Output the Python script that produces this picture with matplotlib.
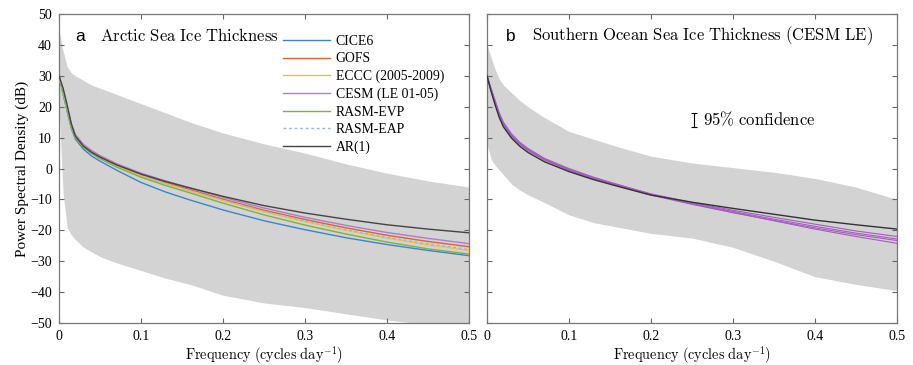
import matplotlib
matplotlib.use("Agg")
import matplotlib.pyplot as plt

plt.rcParams['mathtext.fontset'] = 'cm'
plt.rcParams['font.family'] = ['Liberation Serif', 'DejaVu Serif']

# ---------------- data ----------------
freq = [0, 0.005, 0.01, 0.015, 0.02, 0.03, 0.04, 0.05, 0.07, 0.1, 0.13, 0.16,
        0.2, 0.25, 0.3, 0.35, 0.4, 0.45, 0.5]

# Panel a: Arctic sea ice thickness spectra (dB)
band_a_upper = [45, 38, 33, 31, 30, 28.5, 27, 26, 24, 21, 18, 15, 11.5, 8, 5, 1.5, -1.5, -4, -6]
band_a_lower = [20, -8, -19, -21.5, -23, -25.5, -27, -28.5, -30.5, -33, -35.5, -37.5, -41,
                -43.5, -45, -47, -49, -50.5, -51]

cice6 = [30, 24, 18.5, 13, 9.5, 6.2, 4.0, 2.4, -0.5, -4.5, -7.6, -10.2, -13.4, -16.9, -19.8,
         -22.4, -24.6, -26.5, -28.2]
gofs = [30, 25, 19.5, 14, 10.5, 7.4, 5.4, 3.9, 1.3, -1.9, -4.5, -6.8, -9.9, -13.5, -16.5,
        -19.2, -21.6, -23.6, -25.3]
eccc = [29.5, 24.5, 19, 13.5, 10, 7.0, 5.0, 3.4, 0.8, -2.4, -5.0, -7.3, -10.4, -14.0, -17.2,
        -20.0, -22.5, -24.7, -26.5]
cesm = [30, 25.5, 20, 14.5, 11, 7.8, 5.8, 4.2, 1.6, -1.5, -4.0, -6.3, -9.3, -12.8, -15.8,
        -18.4, -20.7, -22.6, -24.3]
rasm_evp = [30, 24.5, 19, 13.5, 10, 6.8, 4.8, 3.2, 0.5, -2.8, -5.5, -7.9, -11.2, -15.0, -18.3,
            -21.2, -23.8, -26.0, -27.7]
rasm_eap = [30, 25, 19.5, 14, 10.5, 7.2, 5.2, 3.6, 1.0, -2.2, -4.8, -7.1, -10.2, -13.8, -17.0,
            -19.8, -22.3, -24.4, -26.2]
ar1_a = [30, 26, 20.5, 14.5, 10.5, 7.2, 5.2, 3.7, 1.2, -1.8, -4.2, -6.3, -9.0, -12.0, -14.4,
         -16.4, -18.2, -19.6, -20.8]

# Panel b: Southern Ocean sea ice thickness spectra (CESM LE members)
band_b_upper = [40, 36, 32, 29, 27, 24.5, 22, 20, 16.5, 12, 9.5, 7, 4, 1.8, 0.3, -1.2, -3.2, -6.0, -10]
band_b_lower = [8, 3, 1, -0.5, -2, -5, -7, -8.5, -11, -15, -17.5, -19, -21, -22.5, -25.5,
                -30, -35, -37.5, -39.5]
so_member1 = [30, 25.5, 21.5, 17.5, 14.5, 10.8, 8.2, 6.2, 3.0, -0.3, -3.0, -5.3, -8.2, -11.0,
              -13.5, -15.8, -18.0, -20.2, -22.0]
so_member2 = [29.5, 25, 21, 17, 14, 10.3, 7.8, 5.8, 2.8, -0.6, -3.3, -5.6, -8.6, -11.6,
              -14.3, -16.8, -19.2, -21.4, -23.3]
so_member3 = [30, 26, 22, 18, 15, 11.2, 8.5, 6.5, 3.3, 0.0, -2.8, -5.2, -8.3, -11.4,
              -14.2, -16.9, -19.6, -22.0, -24.2]
so_member4 = [30, 25.3, 21.2, 17.2, 14.2, 10.5, 8.0, 6.0, 2.9, -0.5, -3.2, -5.5, -8.5, -11.3,
              -13.9, -16.4, -18.7, -20.9, -22.8]
ar1_b = [30, 25, 20.5, 16.5, 13.5, 9.8, 7.2, 5.2, 2.2, -1.0, -3.6, -5.8, -8.6, -10.9, -12.9,
         -14.8, -16.7, -18.2, -19.6]

conf_f = 0.252
conf_y = 15.7
conf_half = 2.3

xticks = [0, 0.1, 0.2, 0.3, 0.4, 0.5]
xticklabels = ['0', '0.1', '0.2', '0.3', '0.4', '0.5']
yticks = [-50, -40, -30, -20, -10, 0, 10, 20, 30, 40, 50]

# ---------------- figure ----------------
fig = plt.figure(figsize=(9.13, 3.65), dpi=100)
ax_a = fig.add_axes([0.0646, 0.115, 0.449, 0.8466])
ax_b = fig.add_axes([0.5334, 0.115, 0.449, 0.8466])

band_color = '#d3d3d3'
for ax in (ax_a, ax_b):
    ax.set_xlim(0, 0.5)
    ax.set_ylim(-50, 50)
    ax.set_xticks(xticks)
    ax.set_xticklabels(xticklabels)
    ax.set_yticks(yticks)
    ax.tick_params(direction='in', length=3.5, width=0.8, top=True, right=True,
                   labelsize=10, color='#666666', pad=5)
    for s in ax.spines.values():
        s.set_color('#777777')
        s.set_linewidth(0.9)
    ax.set_xlabel(r'$\mathrm{Frequency\ (cycles\ day^{-1})}$', fontsize=10.3, labelpad=1)

ax_b.set_yticklabels([])
ax_a.set_ylabel('Power Spectral Density (dB)', fontsize=11, labelpad=1)

# Panel a
ax_a.fill_between(freq, band_a_lower, band_a_upper, color=band_color, lw=0, zorder=1)
lw = 1.0
ax_a.plot(freq, cice6, color='#3d85c6', lw=lw, label='CICE6', zorder=3)
ax_a.plot(freq, gofs, color='#e0603a', lw=lw, label='GOFS', zorder=3)
ax_a.plot(freq, eccc, color='#f0c040', lw=lw, label='ECCC (2005-2009)', zorder=3)
ax_a.plot(freq, cesm, color='#b07cc6', lw=lw, label='CESM (LE 01-05)', zorder=3)
ax_a.plot(freq, rasm_evp, color='#7cb342', lw=lw, label='RASM-EVP', zorder=3)
ax_a.plot(freq, rasm_eap, color='#9fb7c9', lw=lw, ls=(0, (2, 2)), label='RASM-EAP', zorder=3)
ax_a.plot(freq, ar1_a, color='#444444', lw=lw, label='AR(1)', zorder=4)

leg = ax_a.legend(loc='upper left', bbox_to_anchor=(0.546, 0.932), frameon=False,
                  fontsize=9.9, handlelength=3.4, handletextpad=0.45, labelspacing=0.32,
                  borderaxespad=0, borderpad=0)

ax_a.text(0.04, 0.914, 'a', transform=ax_a.transAxes, fontsize=12.5,
          family='Liberation Sans', va='baseline')
ax_a.text(0.1, 0.914, r'$\mathrm{Arctic\ Sea\ Ice\ Thickness}$', transform=ax_a.transAxes,
          fontsize=12, va='baseline')

# Panel b
ax_b.fill_between(freq, band_b_lower, band_b_upper, color=band_color, lw=0, zorder=1)
for m in (so_member1, so_member2, so_member3, so_member4):
    ax_b.plot(freq, m, color='#a45cc0', lw=0.8, zorder=3)
ax_b.plot(freq, ar1_b, color='#333333', lw=1.0, zorder=4)

ax_b.errorbar([conf_f], [conf_y], yerr=[conf_half], color='black', lw=0.8, capsize=2.5,
              capthick=0.8, zorder=5)
ax_b.text(conf_f + 0.011, conf_y, r'$\mathrm{95\%\ confidence}$', fontsize=12, va='center')

ax_b.text(0.046, 0.914, 'b', transform=ax_b.transAxes, fontsize=12.5,
          family='Liberation Sans', va='baseline')
ax_b.text(0.109, 0.914, r'$\mathrm{Southern\ Ocean\ Sea\ Ice\ Thickness\ (CESM\ LE)}$',
          transform=ax_b.transAxes, fontsize=12, va='baseline')

fig.savefig('out.png', dpi=100)
